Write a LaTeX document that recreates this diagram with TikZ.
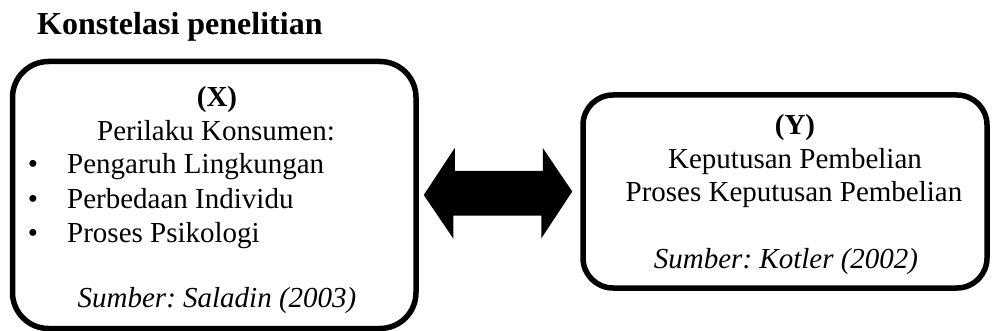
\documentclass[tikz,border=0pt]{standalone}
\usepackage{fontspec}
\setmainfont{Liberation Serif}
\usetikzlibrary{calc}
\frenchspacing

\begin{document}
\begin{tikzpicture}[
  x=1pt, y=-1pt,
  box/.style={draw=black, line width=5.5pt, rounded corners=#1, inner sep=0pt},
  txt/.style={anchor=base, inner sep=0pt, font=\fontsize{29}{34}\selectfont},
  head/.style={txt, font=\fontsize{29}{34}\selectfont\bfseries},
  src/.style={txt, font=\fontsize{29}{34}\selectfont\itshape},
  item/.style={txt, anchor=base west},
  title/.style={anchor=base west, inner sep=0pt, font=\fontsize{32}{38}\selectfont\bfseries}
]
\useasboundingbox (0,0) rectangle (992,331);
\node[title] (judul) at (37,35) {Konstelasi penelitian};
% kotak variabel
\node[box=36pt, minimum width=403.5pt, minimum height=267pt] (xbox) at (214.25,195) {};
\node[box=30pt, minimum width=404pt, minimum height=193pt] (ybox) at (785,191.5) {};
\node[head] (xlab) at (217,107) {(X)};
\node[txt] (xname) at (216,141) {Perilaku Konsumen:};
\node[item] (x1) at (67,174) {Pengaruh Lingkungan};
\node[item] (x2) at (67,208) {Perbedaan Individu};
\node[item] (x3) at (67,242) {Proses Psikologi};
\foreach \n in {x1,x2,x3}
  \node[txt] at ($(\n.base west)+(-34,0)$) {\textbullet};
\node[src] (xsrc) at (217,307) {Sumber: Saladin (2003)};
\node[head] (ylab) at (795,135) {(Y)};
\node[txt] (yname) at (795,168) {Keputusan Pembelian};
\node[txt] (yproc) at (794,201) {Proses Keputusan Pembelian};
\node[src] (ysrc) at (786,268) {Sumber: Kotler (2002)};
% panah dua arah
\coordinate (mid) at ($(xbox.east)!0.5!(ybox.west)$);
\coordinate (mid) at (mid |- 0,178);
\fill[black] ($(xbox.east)+(5,0)$ |- mid) -- ++(31,-47) -- ++(0,23) -- ++(88,0)
  -- ++(0,-23) -- ($(ybox.west)+(-8,0)$ |- mid) -- ++(-31,47) -- ++(0,-23)
  -- ++(-88,0) -- ++(0,23) -- cycle;
\end{tikzpicture}
\end{document}
